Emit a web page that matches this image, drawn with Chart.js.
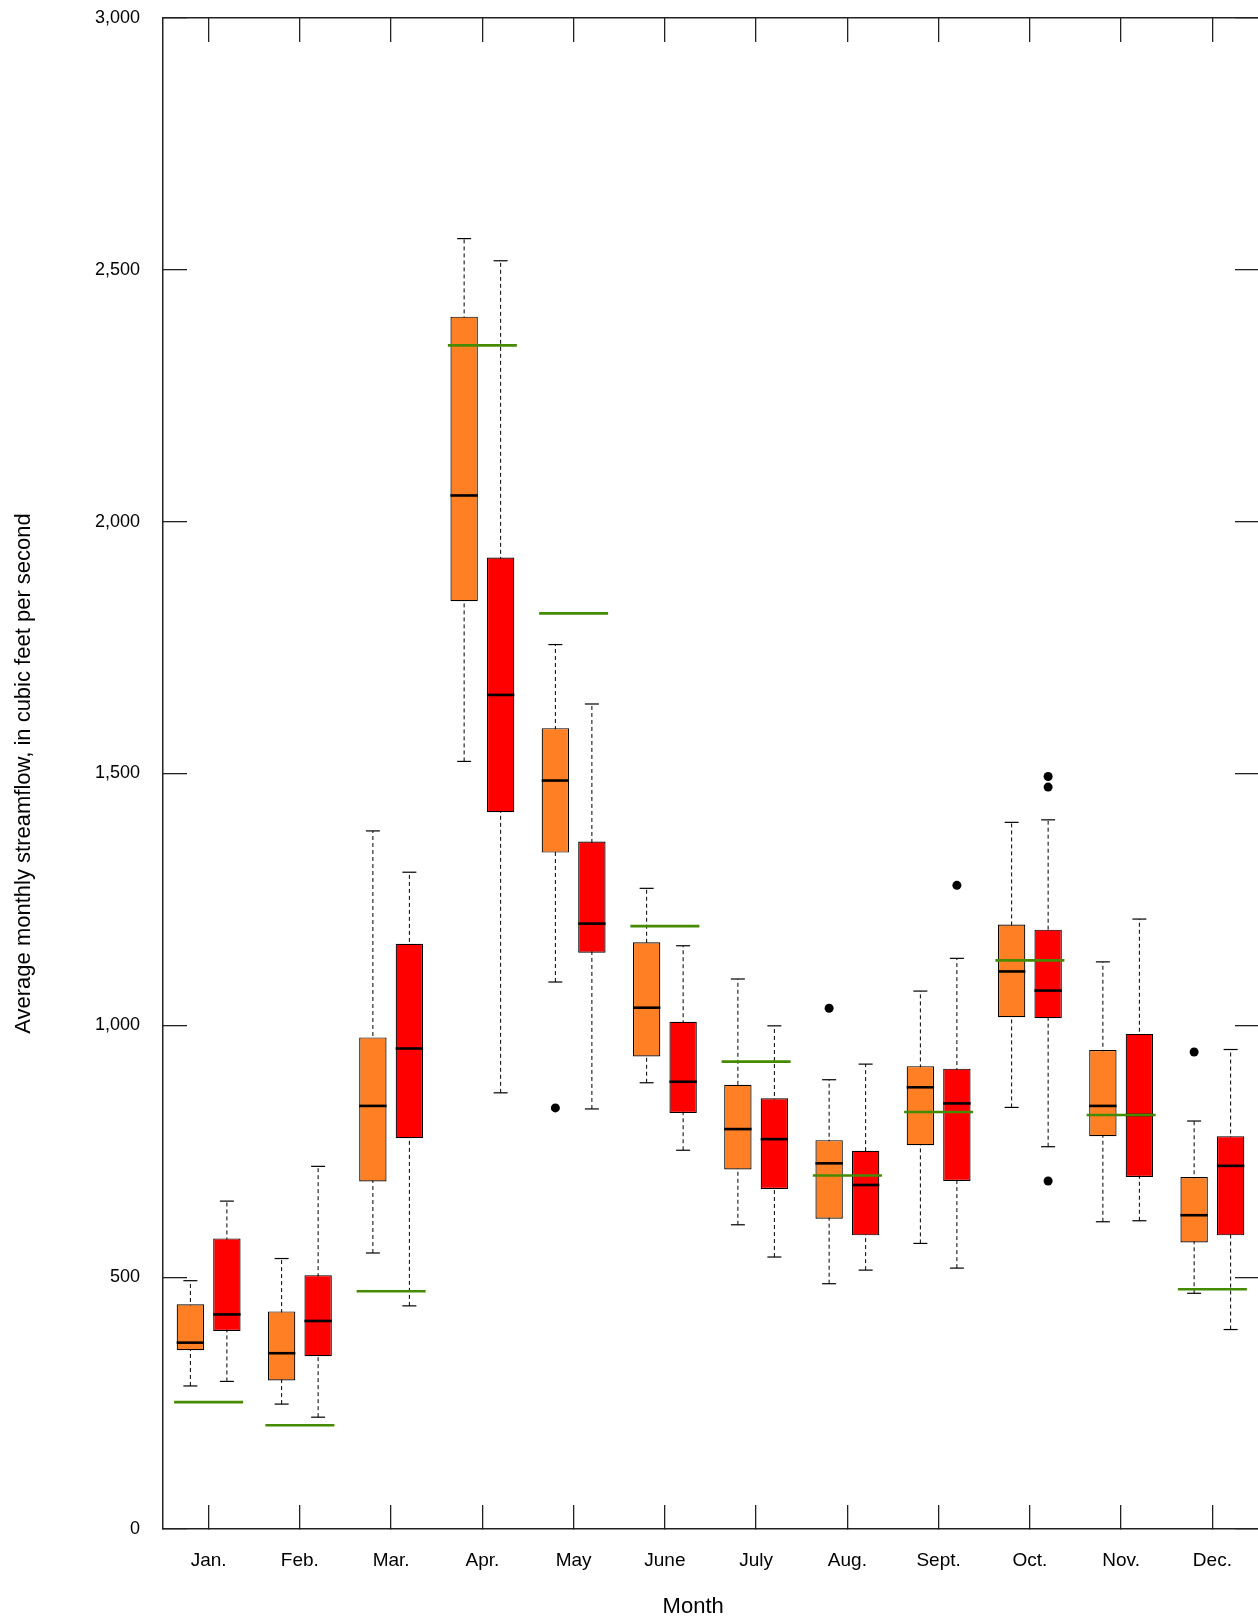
<!DOCTYPE html>
<html>
<head>
<meta charset="utf-8">
<script src="https://cdn.jsdelivr.net/npm/chart.js@4.4.1/dist/chart.umd.min.js"></script>
<style>
html, body { margin: 0; padding: 0; background: #ffffff; overflow: hidden; }
#wrap { position: relative; width: 1258px; height: 1623px; }
</style>
</head>
<body>
<div id="wrap"><canvas id="chart"></canvas></div>
<script>
// ---------- data ----------
const months = ['Jan.', 'Feb.', 'Mar.', 'Apr.', 'May', 'June', 'July', 'Aug.', 'Sept.', 'Oct.', 'Nov.', 'Dec.'];
const yTicks = [0, 500, 1000, 1500, 2000, 2500, 3000];

// first (orange) period
const orangeMin    = [284, 248, 548, 1524, 1086, 886, 604, 487, 567, 837, 610, 468];
const orangeQ1     = [355, 295, 690, 1842, 1343, 938, 714, 616, 762, 1016, 780, 569];
const orangeMedian = [370, 349, 840, 2052, 1486, 1035, 794, 726, 877, 1107, 840, 623];
const orangeQ3     = [446, 432, 976, 2407, 1590, 1165, 882, 772, 919, 1200, 951, 699];
const orangeMax    = [493, 537, 1386, 2562, 1756, 1272, 1092, 892, 1068, 1403, 1126, 810];
const orangeOutlierMonths = [5, 8, 12];
const orangeOutlierValues = [836, 1034, 947];

// second (red) period
const redMin    = [293, 222, 443, 866, 834, 752, 540, 514, 518, 759, 612, 396];
const redQ1     = [393, 343, 776, 1423, 1144, 826, 675, 583, 691, 1014, 699, 583];
const redMedian = [426, 413, 954, 1656, 1202, 888, 774, 683, 845, 1069, 822, 721];
const redQ3     = [577, 504, 1162, 1929, 1365, 1007, 855, 751, 914, 1190, 983, 780];
const redMax    = [651, 720, 1304, 2518, 1638, 1158, 999, 923, 1133, 1408, 1211, 952];
const redOutlierMonths = [9, 10, 10, 10];
const redOutlierValues = [1278, 1494, 1473, 691];

// green reference value per month
const referenceValue = [252, 206, 472, 2350, 1818, 1197, 928, 702, 828, 1129, 822, 476];

const xTitle = 'Month';
const yTitle = 'Average monthly streamflow, in cubic feet per second';

// ---------- styling / layout constants ----------
const FONT = "'Liberation Sans', Arial, sans-serif";
const ORANGE = '#FF7F24';
const RED = '#FF0000';
const GREEN = '#458B00';
const INK = '#222222';
const BOX_SHIFT = 0.2;      // box centre offset from month tick, in month units
const X_TITLE_AT = 6.31;    // x-axis title centre, in month units (as in the original figure)

// ---------- builders ----------
const boxData = (q1, q3, shift) => q1.map((v, i) => ({ x: i + 1 + shift, y: [v, q3[i]] }));
const pointData = (vals, shift) => vals.map((v, i) => ({ x: i + 1 + shift, y: v }));
const whiskerData = (lo, hi, shift) => {
  const d = [];
  lo.forEach((v, i) => {
    d.push({ x: i + 1 + shift, y: v }, { x: i + 1 + shift, y: hi[i] }, { x: i + 1 + shift, y: null });
  });
  return d;
};
const outlierData = (ms, vals, shift) => ms.map((m, i) => ({ x: m + shift, y: vals[i] }));

const capStyle = { type: 'scatter', pointStyle: 'line', pointRadius: 7, pointHoverRadius: 7,
  pointBorderWidth: 1.2, pointBorderColor: '#000', order: 1 };
const medianStyle = { type: 'scatter', pointStyle: 'line', pointRadius: 13.7, pointHoverRadius: 13.7,
  pointBorderWidth: 2.6, pointBorderColor: '#000', order: 1 };
const whiskerStyle = { type: 'line', borderColor: '#000', borderWidth: 1, borderDash: [4, 3],
  pointRadius: 0, spanGaps: false, fill: false, order: 3 };
const boxStyle = { type: 'bar', borderColor: '#000', borderWidth: 1.2, borderSkipped: false,
  grouped: false, categoryPercentage: 1, barPercentage: 0.75, order: 2 };
const outlierStyle = { type: 'scatter', pointStyle: 'circle', pointRadius: 4.5, pointHoverRadius: 4.5,
  backgroundColor: '#000', borderColor: '#000', pointBorderWidth: 0, order: 0 };

const monthTicks = (s) => { s.ticks = months.map((m, i) => ({ value: i + 1 })); };
const valueTicks = (s) => { s.ticks = yTicks.map(v => ({ value: v })); };
const fixSize = (w, h) => (s) => {
  if (w !== null) s.width = w;
  if (h !== null) s.height = h;
  s.paddingLeft = 0; s.paddingRight = 0; s.paddingTop = 0; s.paddingBottom = 0;
};

const tickGrid = (len) => ({ drawOnChartArea: false, drawTicks: true, tickLength: len, color: INK,
  lineWidth: 1.3, offset: false });

// x-axis title, placed through the x scale
const xTitlePlugin = {
  id: 'xTitle',
  afterDraw(chart) {
    const { ctx } = chart;
    const xs = chart.scales.x;
    ctx.save();
    ctx.font = `22px ${FONT}`;
    ctx.fillStyle = '#000';
    ctx.textAlign = 'center';
    ctx.textBaseline = 'middle';
    ctx.fillText(xTitle, xs.getPixelForValue(X_TITLE_AT), xs.bottom - 16);
    ctx.restore();
  }
};

new Chart(document.getElementById('chart'), {
  type: 'bar',
  data: {
    datasets: [
      { ...whiskerStyle, label: 'orange whiskers', data: whiskerData(orangeMin, orangeMax, -BOX_SHIFT) },
      { ...whiskerStyle, label: 'red whiskers', data: whiskerData(redMin, redMax, BOX_SHIFT) },
      { ...boxStyle, label: 'orange boxes', backgroundColor: ORANGE, data: boxData(orangeQ1, orangeQ3, -BOX_SHIFT) },
      { ...boxStyle, label: 'red boxes', backgroundColor: RED, data: boxData(redQ1, redQ3, BOX_SHIFT) },
      { ...capStyle, label: 'orange upper caps', data: pointData(orangeMax, -BOX_SHIFT) },
      { ...capStyle, label: 'orange lower caps', data: pointData(orangeMin, -BOX_SHIFT) },
      { ...capStyle, label: 'red upper caps', data: pointData(redMax, BOX_SHIFT) },
      { ...capStyle, label: 'red lower caps', data: pointData(redMin, BOX_SHIFT) },
      { ...medianStyle, label: 'orange medians', data: pointData(orangeMedian, -BOX_SHIFT) },
      { ...medianStyle, label: 'red medians', data: pointData(redMedian, BOX_SHIFT) },
      { ...outlierStyle, label: 'orange outliers', data: outlierData(orangeOutlierMonths, orangeOutlierValues, -BOX_SHIFT) },
      { ...outlierStyle, label: 'red outliers', data: outlierData(redOutlierMonths, redOutlierValues, BOX_SHIFT) },
      { type: 'scatter', label: 'reference', data: pointData(referenceValue, 0), pointStyle: 'line',
        pointRadius: 34.5, pointHoverRadius: 34.5, pointBorderWidth: 2.6, pointBorderColor: GREEN, order: 0 }
    ]
  },
  options: {
    responsive: true,
    maintainAspectRatio: false,
    animation: false,
    events: [],
    layout: { padding: 0, autoPadding: false },
    plugins: { legend: { display: false }, tooltip: { enabled: false } },
    scales: {
      x: {
        type: 'linear', position: 'bottom', min: 0.5, max: 12.5, bounds: 'data', offset: false,
        afterBuildTicks: monthTicks,
        afterFit: fixSize(null, 94),
        ticks: { callback: (v) => months[v - 1] ?? '', font: { family: FONT, size: 19 }, color: '#000',
          padding: 44, maxRotation: 0, autoSkip: false },
        grid: tickGrid(-24),
        border: { display: true, color: INK, width: 1.5 },
        title: { display: false, text: xTitle }
      },
      x2: {
        type: 'linear', position: 'top', min: 0.5, max: 12.5, bounds: 'data', offset: false,
        afterBuildTicks: monthTicks,
        afterFit: fixSize(null, 18),
        ticks: { display: false },
        grid: tickGrid(-24),
        border: { display: true, color: INK, width: 1.5 }
      },
      y: {
        type: 'linear', position: 'left', min: 0, max: 3000, bounds: 'data',
        afterBuildTicks: valueTicks,
        afterFit: fixSize(163, null),
        ticks: { callback: (v) => v.toLocaleString('en-US'), font: { family: FONT, size: 18 }, color: '#000', padding: 47 },
        grid: tickGrid(-24),
        border: { display: true, color: INK, width: 1.5 },
        title: { display: true, text: yTitle, font: { family: FONT, size: 22 }, color: '#000',
          padding: { top: 11, bottom: 0 } }
      },
      y2: {
        type: 'linear', position: 'right', min: 0, max: 3000, bounds: 'data',
        afterBuildTicks: valueTicks,
        afterFit: fixSize(0, null),
        ticks: { display: false },
        grid: tickGrid(-23),
        border: { display: false }
      }
    }
  },
  plugins: [xTitlePlugin]
});
</script>
</body>
</html>
